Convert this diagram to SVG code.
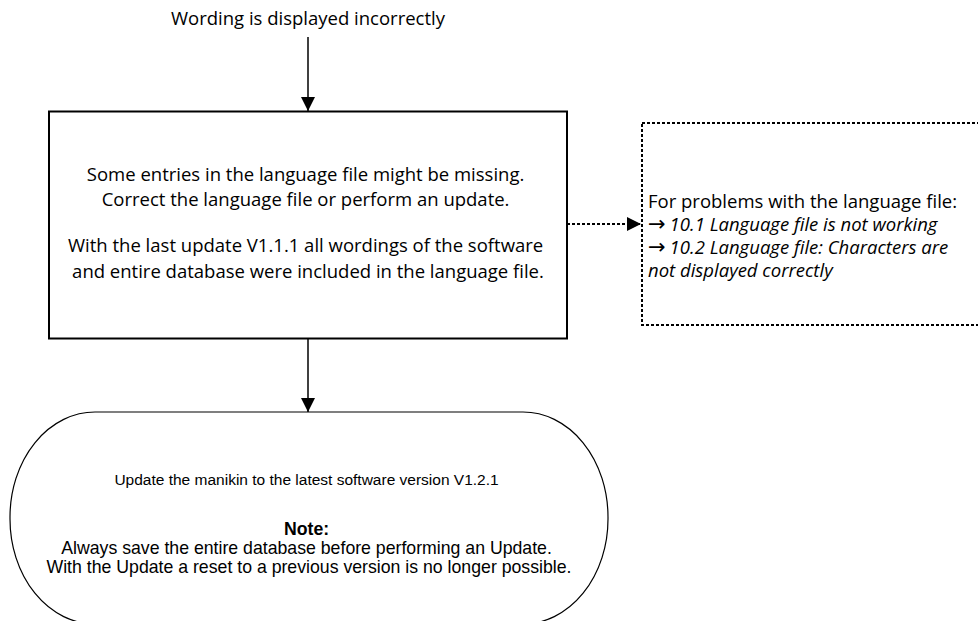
<svg xmlns="http://www.w3.org/2000/svg" width="978" height="621" viewBox="0 0 978 621">
<defs>
<style>
.cal{font-family:"Open Sans","Liberation Sans",sans-serif;font-size:18.5px;fill:#000}
.ari{font-family:"Liberation Sans",Arial,sans-serif;font-size:17.7px;fill:#000}
.it{font-style:italic}
.arr{font-family:"DejaVu Sans",sans-serif;font-style:normal;font-size:21px}
.conn{stroke:#000;stroke-width:1.5;fill:none}
.dot{stroke:#000;stroke-width:2;fill:none;stroke-dasharray:3 2}
</style>
<marker id="ah" viewBox="0 0 10 10" refX="10" refY="5" markerUnits="userSpaceOnUse" markerWidth="14" markerHeight="14" orient="auto">
<path d="M0,0 L10,5 L0,10 Z" fill="#000"/>
</marker>
</defs>
<rect width="978" height="621" fill="#fff"/>
<g id="start">
<text class="cal" x="308" y="25" text-anchor="middle">Wording is displayed incorrectly</text>
</g>
<g id="cause">
<rect x="49" y="111.5" width="518" height="227" fill="#fff" stroke="#000" stroke-width="2"/>
<text class="cal" text-anchor="middle">
<tspan x="308" y="181">Some entries in the language file might be missing.</tspan>
<tspan x="308" y="206">Correct the language file or perform an update.</tspan>
<tspan x="308" y="252">With the last update V1.1.1 all wordings of the software</tspan>
<tspan x="308" y="278">and entire database were included in the language file.</tspan>
</text>
</g>
<g id="reference">
<rect x="642" y="123" width="345" height="202" fill="none" class="dot"/>
<text class="cal">
<tspan x="648" y="208">For problems with the language file:</tspan>
<tspan x="648" y="231"><tspan class="arr">→</tspan><tspan class="it" dx="4">10.1 Language file is not working</tspan></tspan>
<tspan x="648" y="254"><tspan class="arr">→</tspan><tspan class="it" dx="4">10.2 Language file: Characters are</tspan></tspan>
<tspan x="648" y="277" class="it">not displayed correctly</tspan>
</text>
</g>
<g id="action">
<rect x="10" y="412" width="598" height="212" rx="85" ry="105" fill="#fff" stroke="#000" stroke-width="1.2"/>
<text class="ari" text-anchor="middle">
<tspan x="309" y="484.5" font-size="15.5">Update the manikin to the latest software version V1.2.1</tspan>
<tspan x="309" y="535" font-weight="bold">Note:</tspan>
<tspan x="309" y="554">Always save the entire database before performing an Update.</tspan>
<tspan x="309" y="573">With the Update a reset to a previous version is no longer possible.</tspan>
</text>
</g>
<g id="connectors">
<line class="conn" x1="308" y1="37" x2="308" y2="111" marker-end="url(#ah)"/>
<line class="conn" x1="308" y1="339" x2="308" y2="412" marker-end="url(#ah)"/>
<line class="dot" x1="567" y1="224" x2="641" y2="224" stroke-width="2" marker-end="url(#ah)"/>
</g>
</svg>
